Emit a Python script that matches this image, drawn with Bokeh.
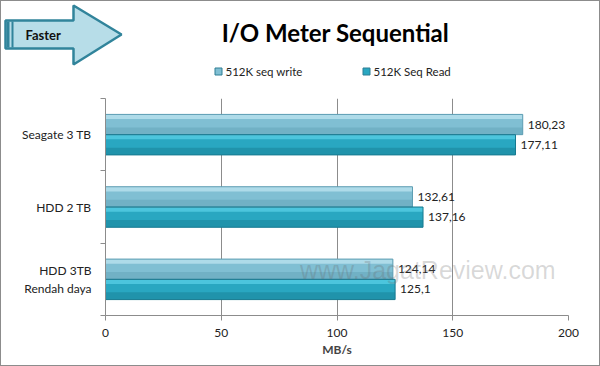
from bokeh.plotting import figure
from bokeh.layouts import column
from bokeh.models import Range1d, FixedTicker, LinearAxis, Label, ColumnDataSource
from bokeh.core.properties import value
from bokeh.embed import file_html
from bokeh.resources import INLINE

# ---- data ----
categories = ["Seagate 3 TB", "HDD 2 TB", "HDD 3TB\nRendah daya"]
series_names = ["512K seq write", "512K Seq Read"]
seq_write = [180.23, 132.61, 124.14]
seq_read = [177.11, 137.16, 125.1]
series_colors = ["#80bfd3", "#29a7c1"]
x_ticks = [0, 50, 100, 150, 200]
title_text = "I/O Meter Sequential"
x_label = "MB/s"
FONT = "Lato"

n = len(categories)
centers = [n - 0.5 - i for i in range(n)]

def fmt(v):
    return ("%g" % v).replace(".", ",")

# ---- header (title, arrow, legend) ----
head = figure(width=598, height=96, x_range=Range1d(1, 599), y_range=Range1d(97, 1),
              output_backend="svg", toolbar_location=None, min_border=0)
head.frame_align = False
head.axis.visible = False
head.grid.visible = False
head.outline_line_color = None
arrow_x = [5, 73, 73, 121, 73, 73, 5]
arrow_y = [20, 20, 5, 34, 64, 48, 48]
head.patch(arrow_x, arrow_y, fill_color="#b7dde8", line_color="#31849b", line_width=2.5)
head.quad(left=[6, 11], right=[9, 13], top=[21, 21], bottom=[47, 47],
          fill_color="#31849b", line_color=None)
head.text(x=[25], y=[34], text=["Faster"], text_font=value(FONT), text_font_style="bold",
          text_font_size="13px", text_baseline="middle", text_color="#111111")
head.text(x=[335], y=[32], text=[title_text], text_font=value(FONT), text_font_style="bold",
          text_font_size="24px", text_align="center", text_baseline="middle", text_color="#000000")
leg_x = [218, 366]
head.scatter(x=leg_x, y=[71, 71], marker="square", size=7, color=series_colors,
             line_color="#2f7f95")
head.text(x=[x + 7 for x in leg_x], y=[71, 71], text=series_names, text_font=value(FONT),
          text_font_size="11.5px", text_baseline="middle", text_color="#222222")

# ---- main chart ----
p = figure(width=598, height=268, x_range=Range1d(0, 200), y_range=Range1d(0, n),
           output_backend="svg", toolbar_location=None,
           min_border_top=1, min_border_bottom=50, min_border_left=104, min_border_right=31)
p.frame_align = False
p.outline_line_color = None
p.xgrid.ticker = FixedTicker(ticks=x_ticks)
p.xgrid.grid_line_color = "#8c8c8c"
p.ygrid.grid_line_color = None

p.xaxis.ticker = FixedTicker(ticks=x_ticks)
p.xaxis.axis_line_color = "#8c8c8c"
p.xaxis.major_tick_line_color = "#8c8c8c"
p.xaxis.major_tick_out = 5
p.xaxis.major_tick_in = 0
p.xaxis.minor_tick_line_color = None
p.xaxis.major_label_text_font = FONT
p.xaxis.major_label_text_font_size = "12px"
p.xaxis.major_label_text_color = "#222222"
p.xaxis.major_label_standoff = 8
p.xaxis.axis_label = x_label
p.xaxis.axis_label_text_font = FONT
p.xaxis.axis_label_text_font_size = "12px"
p.xaxis.axis_label_text_font_style = "bold"
p.xaxis.axis_label_standoff = 2

p.yaxis.ticker = FixedTicker(ticks=list(range(n + 1)))
p.yaxis.major_label_overrides = {i: "" for i in range(n + 1)}
p.yaxis.major_label_standoff = 0
p.yaxis.axis_line_color = "#8c8c8c"
p.yaxis.major_tick_line_color = "#8c8c8c"
p.yaxis.major_tick_out = 5
p.yaxis.major_tick_in = 0
p.yaxis.minor_tick_line_color = None

lab_axis = LinearAxis(ticker=FixedTicker(ticks=centers),
                      major_label_overrides={c: name for c, name in zip(centers, categories)},
                      axis_line_color=None, major_tick_line_color=None,
                      minor_tick_line_color=None, major_label_standoff=3,
                      major_label_text_font=FONT, major_label_text_font_size="12px",
                      major_label_text_color="#222222")
p.add_layout(lab_axis, "left")

off = 0.14
h = 0.28
src = ColumnDataSource(dict(
    w=seq_write, r=seq_read,
    yw=[c + off for c in centers], yr=[c - off for c in centers],
    yw_top=[c + off + h * 0.38 for c in centers], yr_top=[c - off + h * 0.38 for c in centers],
    yw_bot=[c + off - h * 0.32 for c in centers], yr_bot=[c - off - h * 0.32 for c in centers],
    lw=[fmt(v) for v in seq_write], lr=[fmt(v) for v in seq_read],
))
# base bars
p.hbar(y="yw", right="w", left=0, height=h, source=src, fill_color=series_colors[0],
       line_color=None)
p.hbar(y="yr", right="r", left=0, height=h, source=src, fill_color=series_colors[1],
       line_color=None)
# darker lower shading
p.hbar(y="yw_bot", right="w", left=0, height=h * 0.36, source=src, fill_color="#5f9fb4",
       fill_alpha=0.45, line_color=None)
p.hbar(y="yr_bot", right="r", left=0, height=h * 0.36, source=src, fill_color="#177f96",
       fill_alpha=0.5, line_color=None)
# glossy top highlight
p.hbar(y="yw_top", right="w", left=0, height=h * 0.22, source=src, fill_color="#b9e2ef",
       fill_alpha=0.8, line_color=None)
p.hbar(y="yr_top", right="r", left=0, height=h * 0.22, source=src, fill_color="#55cde4",
       fill_alpha=0.8, line_color=None)
# outlines
p.hbar(y="yw", right="w", left=0, height=h, source=src, fill_color=None,
       line_color="#5d9db2", line_width=1)
p.hbar(y="yr", right="r", left=0, height=h, source=src, fill_color=None,
       line_color="#177a90", line_width=1)

p.text(x="w", y="yw", text="lw", source=src, x_offset=5, text_font=value(FONT),
       text_font_size="12px", text_baseline="middle", text_color="#222222")
p.text(x="r", y="yr", text="lr", source=src, x_offset=5, text_font=value(FONT),
       text_font_size="12px", text_baseline="middle", text_color="#222222")

p.add_layout(Label(x=84, y=0.43, text="www.JagatReview.com", text_font="Liberation Sans",
                   text_font_size="25px", text_color="#666666", text_alpha=0.25))

layout = column(head, p, spacing=0, styles={"border": "1px solid #8c8c8c"})
open("out.html", "w").write(file_html(layout, INLINE))
